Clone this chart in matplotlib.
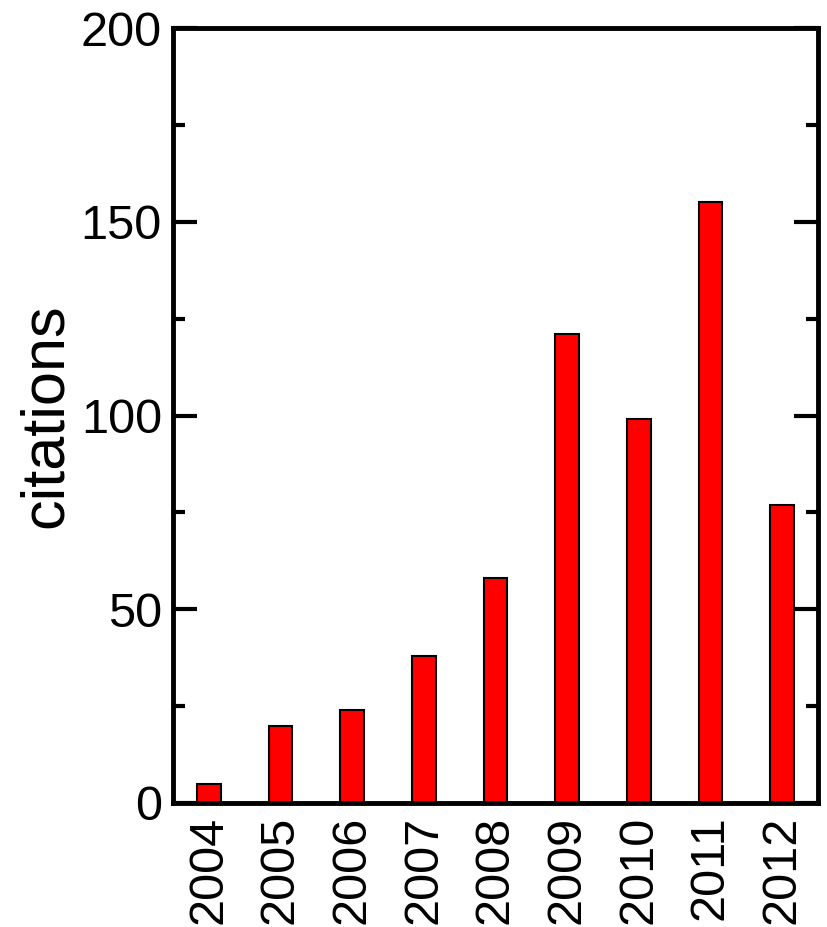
import matplotlib
matplotlib.use("Agg")
import matplotlib.pyplot as plt
from matplotlib.ticker import MultipleLocator

years = ["2004", "2005", "2006", "2007", "2008", "2009", "2010", "2011", "2012"]
citations = [5, 20, 24, 38, 58, 121, 99, 155, 77]

plt.rcParams['font.family'] = ['Liberation Sans', 'DejaVu Sans']

fig = plt.figure(figsize=(8.28, 9.27), dpi=100)
ax = fig.add_axes([173/828, 1-803/927, (818-173)/828, (803-28)/927])

x = list(range(len(years)))
ax.bar(x, citations, width=0.33, color='#ff0000', edgecolor='black', linewidth=1.5, zorder=2)

ax.set_xlim(-0.5, len(years) - 0.5)
ax.set_ylim(0, 200)
ax.set_xticks(x)
ax.set_xticklabels(years, rotation=90, fontsize=35)
ax.yaxis.set_major_locator(MultipleLocator(50))
ax.yaxis.set_minor_locator(MultipleLocator(25))
ax.tick_params(axis='y', which='major', direction='in', length=17, width=3,
               left=True, right=True, labelsize=35, pad=8)
ax.tick_params(axis='y', which='minor', direction='in', length=8.5, width=3,
               left=True, right=True)
ax.tick_params(axis='x', which='both', length=0, pad=9)
for s in ax.spines.values():
    s.set_linewidth(3.5)
ax.set_ylabel('citations', fontsize=44, labelpad=4)

fig.savefig('out.png', dpi=100)
